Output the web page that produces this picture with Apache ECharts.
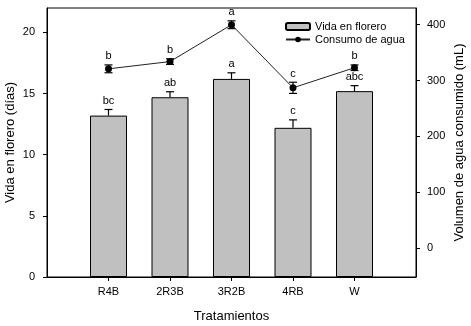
<!DOCTYPE html>
<html>
<head>
<meta charset="utf-8">
<script src="https://cdn.jsdelivr.net/npm/echarts@6/dist/echarts.min.js"></script>
<style>
  html, body { margin: 0; padding: 0; background: #fff; }
  #chart { width: 471px; height: 326px; }
</style>
</head>
<body>
<div id="chart"></div>
<script>
// datos
const categories = ['R4B', '2R3B', '3R2B', '4RB', 'W'];
const vida = [13.2, 14.7, 16.2, 12.2, 15.2];
const vidaErr = [0.5, 0.45, 0.5, 0.65, 0.45];
const vidaLetters = ['bc', 'ab', 'a', 'c', 'abc'];
const consumo = [321, 334, 400, 287, 323];
const consumoErr = [7, 5, 7, 10, 5];
const consumoLetters = ['b', 'b', 'a', 'c', 'b'];

const FONT = 'Liberation Sans, Arial, sans-serif';
const pos = categories.map((c, i) => i + 1);

// barras de error + letras
function errorSeries(name, values, errs, letters, yAxisIndex, both) {
    return {
        name: name + '_err',
        type: 'custom',
        yAxisIndex: yAxisIndex,
        z: 5,
        silent: true,
        data: values.map((v, i) => [pos[i], v, errs[i]]),
        encode: {x: 0, y: 1},
        renderItem: (params, api) => {
            const x = api.value(0), v = api.value(1), e = api.value(2);
            const letter = letters[params.dataIndex];
            const top = api.coord([x, v + e]);
            const bot = both ? api.coord([x, v - e]) : api.coord([x, v]);
            const half = 4;
            const st = {stroke: '#000', lineWidth: 1.2};
            const children = [
                {type: 'line', shape: {x1: top[0], y1: top[1], x2: bot[0], y2: bot[1]}, style: st},
                {type: 'line', shape: {x1: top[0] - half, y1: top[1], x2: top[0] + half, y2: top[1]}, style: st},
                {type: 'text', style: {
                    text: letter, x: top[0], y: top[1] - 3,
                    textAlign: 'center', textVerticalAlign: 'bottom',
                    font: '11px ' + FONT, fill: '#000'
                }}
            ];
            if (both) {
                children.push({type: 'line', shape: {x1: bot[0] - half, y1: bot[1], x2: bot[0] + half, y2: bot[1]}, style: st});
            }
            return {type: 'group', children: children};
        }
    };
}

const chart = echarts.init(document.getElementById('chart'));
chart.setOption({
    animation: false,
    textStyle: {fontFamily: FONT},
    grid: {
        left: 47, right: 55, top: 8, bottom: 49,
        outerBoundsMode: 'none',
        containLabel: false,
        show: true, borderColor: '#000', borderWidth: 1
    },
    legend: {
        orient: 'vertical',
        left: 285, top: 21,
        padding: 0,
        itemWidth: 24, itemHeight: 7,
        itemGap: 2,
        textStyle: {fontSize: 11, color: '#000', fontFamily: FONT},
        data: ['Vida en florero', 'Consumo de agua']
    },
    xAxis: {
        type: 'value',
        min: 0, max: 6,
        name: 'Tratamientos',
        nameLocation: 'middle',
        nameGap: 33,
        nameTextStyle: {fontSize: 13, color: '#000'},
        axisLine: {lineStyle: {color: '#000'}},
        axisTick: {show: true, length: 4, lineStyle: {color: '#000'}, customValues: pos},
        axisLabel: {
            customValues: pos,
            margin: 9,
            fontSize: 11, color: '#000',
            formatter: v => categories[Math.round(v) - 1] || ''
        },
        splitLine: {show: false}
    },
    yAxis: [{
        type: 'value',
        min: 0, max: 22,
        name: 'Vida en florero (días)',
        nameLocation: 'middle',
        nameRotate: 90,
        nameGap: 30,
        nameMoveOverlap: false,
        nameTextStyle: {fontSize: 13, color: '#000'},
        axisLine: {show: true, lineStyle: {color: '#000'}},
        axisTick: {show: true, length: 4, lineStyle: {color: '#000'}, customValues: [0, 5, 10, 15, 20]},
        axisLabel: {customValues: [0, 5, 10, 15, 20], margin: 12, fontSize: 11, color: '#000'},
        splitLine: {show: false}
    }, {
        type: 'value',
        min: -52, max: 430,
        position: 'right',
        name: 'Volumen de agua consumido (mL)',
        nameLocation: 'middle',
        nameRotate: 90,
        nameGap: 37,
        nameMoveOverlap: false,
        nameTextStyle: {fontSize: 13, color: '#000'},
        axisLine: {show: true, lineStyle: {color: '#000'}},
        axisTick: {show: true, length: 4, lineStyle: {color: '#000'}, customValues: [0, 100, 200, 300, 400]},
        axisLabel: {customValues: [0, 100, 200, 300, 400], margin: 11, fontSize: 11, color: '#000'},
        splitLine: {show: false}
    }],
    series: [
        {
            name: 'Vida en florero',
            type: 'bar',
            barWidth: 37,
            data: vida.map((v, i) => [pos[i], v]),
            itemStyle: {color: '#c0c0c0', borderColor: '#000', borderWidth: 1}
        },
        errorSeries('Vida en florero', vida, vidaErr, vidaLetters, 0, false),
        {
            name: 'Consumo de agua',
            type: 'line',
            yAxisIndex: 1,
            z: 6,
            data: consumo.map((v, i) => [pos[i], v]),
            symbol: 'circle',
            symbolSize: 7,
            lineStyle: {color: '#222', width: 1},
            itemStyle: {color: '#000'}
        },
        errorSeries('Consumo de agua', consumo, consumoErr, consumoLetters, 1, true)
    ]
});
</script>
</body>
</html>
